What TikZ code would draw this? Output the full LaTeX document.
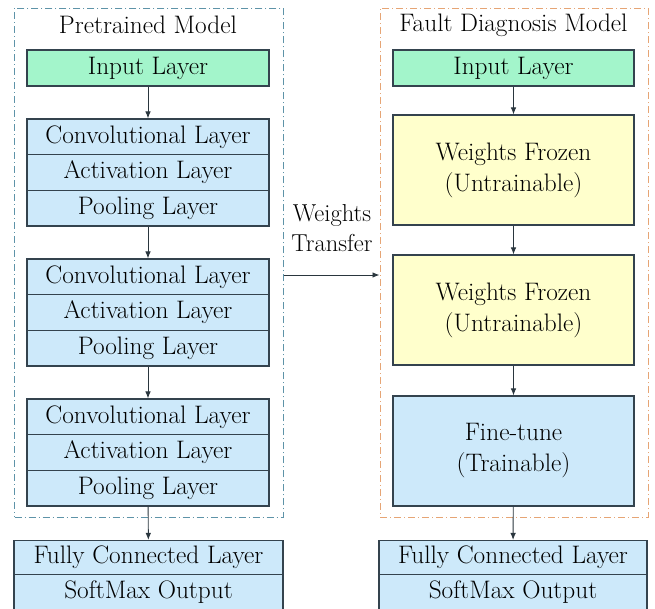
\documentclass[tikz,border=0pt]{standalone}
\usetikzlibrary{arrows.meta}
\definecolor{ingreen}{HTML}{A3F5CB}
\definecolor{lblue}{HTML}{CDE9FA}
\definecolor{lyellow}{HTML}{FFFFCC}
\definecolor{edgec}{HTML}{34434E}
\definecolor{dashblue}{HTML}{5E93A8}
\definecolor{dashorange}{HTML}{E6A575}
\definecolor{txt}{HTML}{000000}
\tikzset{
  lay/.style={draw=edgec, line width=1.1pt, text=txt, inner sep=0pt,
    font=\fontsize{25.3}{31}\selectfont, align=center},
  inbox/.style={lay, fill=ingreen, minimum width=242pt, minimum height=36pt},
  row/.style={lay, fill=lblue, minimum width=242pt, minimum height=35.67pt},
  frozen/.style={lay, fill=lyellow, minimum width=241pt, minimum height=110pt},
  tune/.style={lay, fill=lblue, minimum width=241pt, minimum height=110pt},
  outrow/.style={lay, fill=lblue, minimum height=34pt},
  frameL/.style={draw=dashblue, line width=1pt, dash pattern=on 7pt off 3pt on 1pt off 3pt, inner sep=0pt},
  frameR/.style={draw=dashorange, line width=1pt, dash pattern=on 7pt off 3pt on 1pt off 3pt, inner sep=0pt},
  ttl/.style={text=txt, font=\fontsize{25.3}{31}\selectfont, inner sep=0pt},
  arr/.style={draw=edgec!80!black, line width=0.9pt, -{Latex[length=7pt,width=5.5pt]}},
}
\begin{document}
\begin{tikzpicture}[x=1pt,y=-1pt]
\useasboundingbox (0,0) rectangle (655,608);
% frames
\node[frameL, minimum width=268.3pt, minimum height=509pt] (pre) at (148.85,262.5) {};
\node[frameR, minimum width=268pt, minimum height=509pt] (fdm) at (514,262.5) {};
\node[ttl] (preT) at (148,25) {Pretrained Model};
\node[ttl] (fdmT) at (513.5,25) {Fault Diagnosis Model};
% left column
\node[inbox] (inL) at (148,68) {Input Layer};
\node[row] (c1) at (148,136.83) {Convolutional Layer};
\node[row] (a1) at (148,172.5) {Activation Layer};
\node[row] (p1) at (148,208.17) {Pooling Layer};
\node[row] (c2) at (148,276.83) {Convolutional Layer};
\node[row] (a2) at (148,312.5) {Activation Layer};
\node[row] (p2) at (148,348.17) {Pooling Layer};
\node[row] (c3) at (148,416.83) {Convolutional Layer};
\node[row] (a3) at (148,452.5) {Activation Layer};
\node[row] (p3) at (148,488.17) {Pooling Layer};
% right column
\node[inbox, minimum width=241pt] (inR) at (513.5,68) {Input Layer};
\node[frozen] (f1) at (513.5,170) {Weights Frozen\\(Untrainable)};
\node[frozen] (f2) at (513.5,310) {Weights Frozen\\(Untrainable)};
\node[tune] (ft) at (513.5,451) {Fine-tune\\(Trainable)};
% outputs
\node[outrow, minimum width=269pt] (fcL) at (148.5,557.5) {Fully Connected Layer};
\node[outrow, minimum width=269pt, minimum height=36pt] (smL) at (148.5,592.5) {SoftMax Output};
\node[outrow, minimum width=268pt] (fcR) at (513,557.5) {Fully Connected Layer};
\node[outrow, minimum width=268pt, minimum height=36pt] (smR) at (513,592.5) {SoftMax Output};
% arrows
\draw[arr] (inL) -- (c1);
\draw[arr] (p1) -- (c2);
\draw[arr] (p2) -- (c3);
\draw[arr] (p3) -- (fcL);
\draw[arr] (inR) -- (f1);
\draw[arr] (f1) -- (f2);
\draw[arr] (f2) -- (ft);
\draw[arr] (ft) -- (fcR);
% weights transfer
\draw[arr] ([yshift=-12.5pt]pre.east) -- ([yshift=-12.5pt]fdm.west);
\node[ttl, align=center, font=\fontsize{24.5}{30}\selectfont] (wt) at (332,228) {Weights\\Transfer};
\end{tikzpicture}
\end{document}
